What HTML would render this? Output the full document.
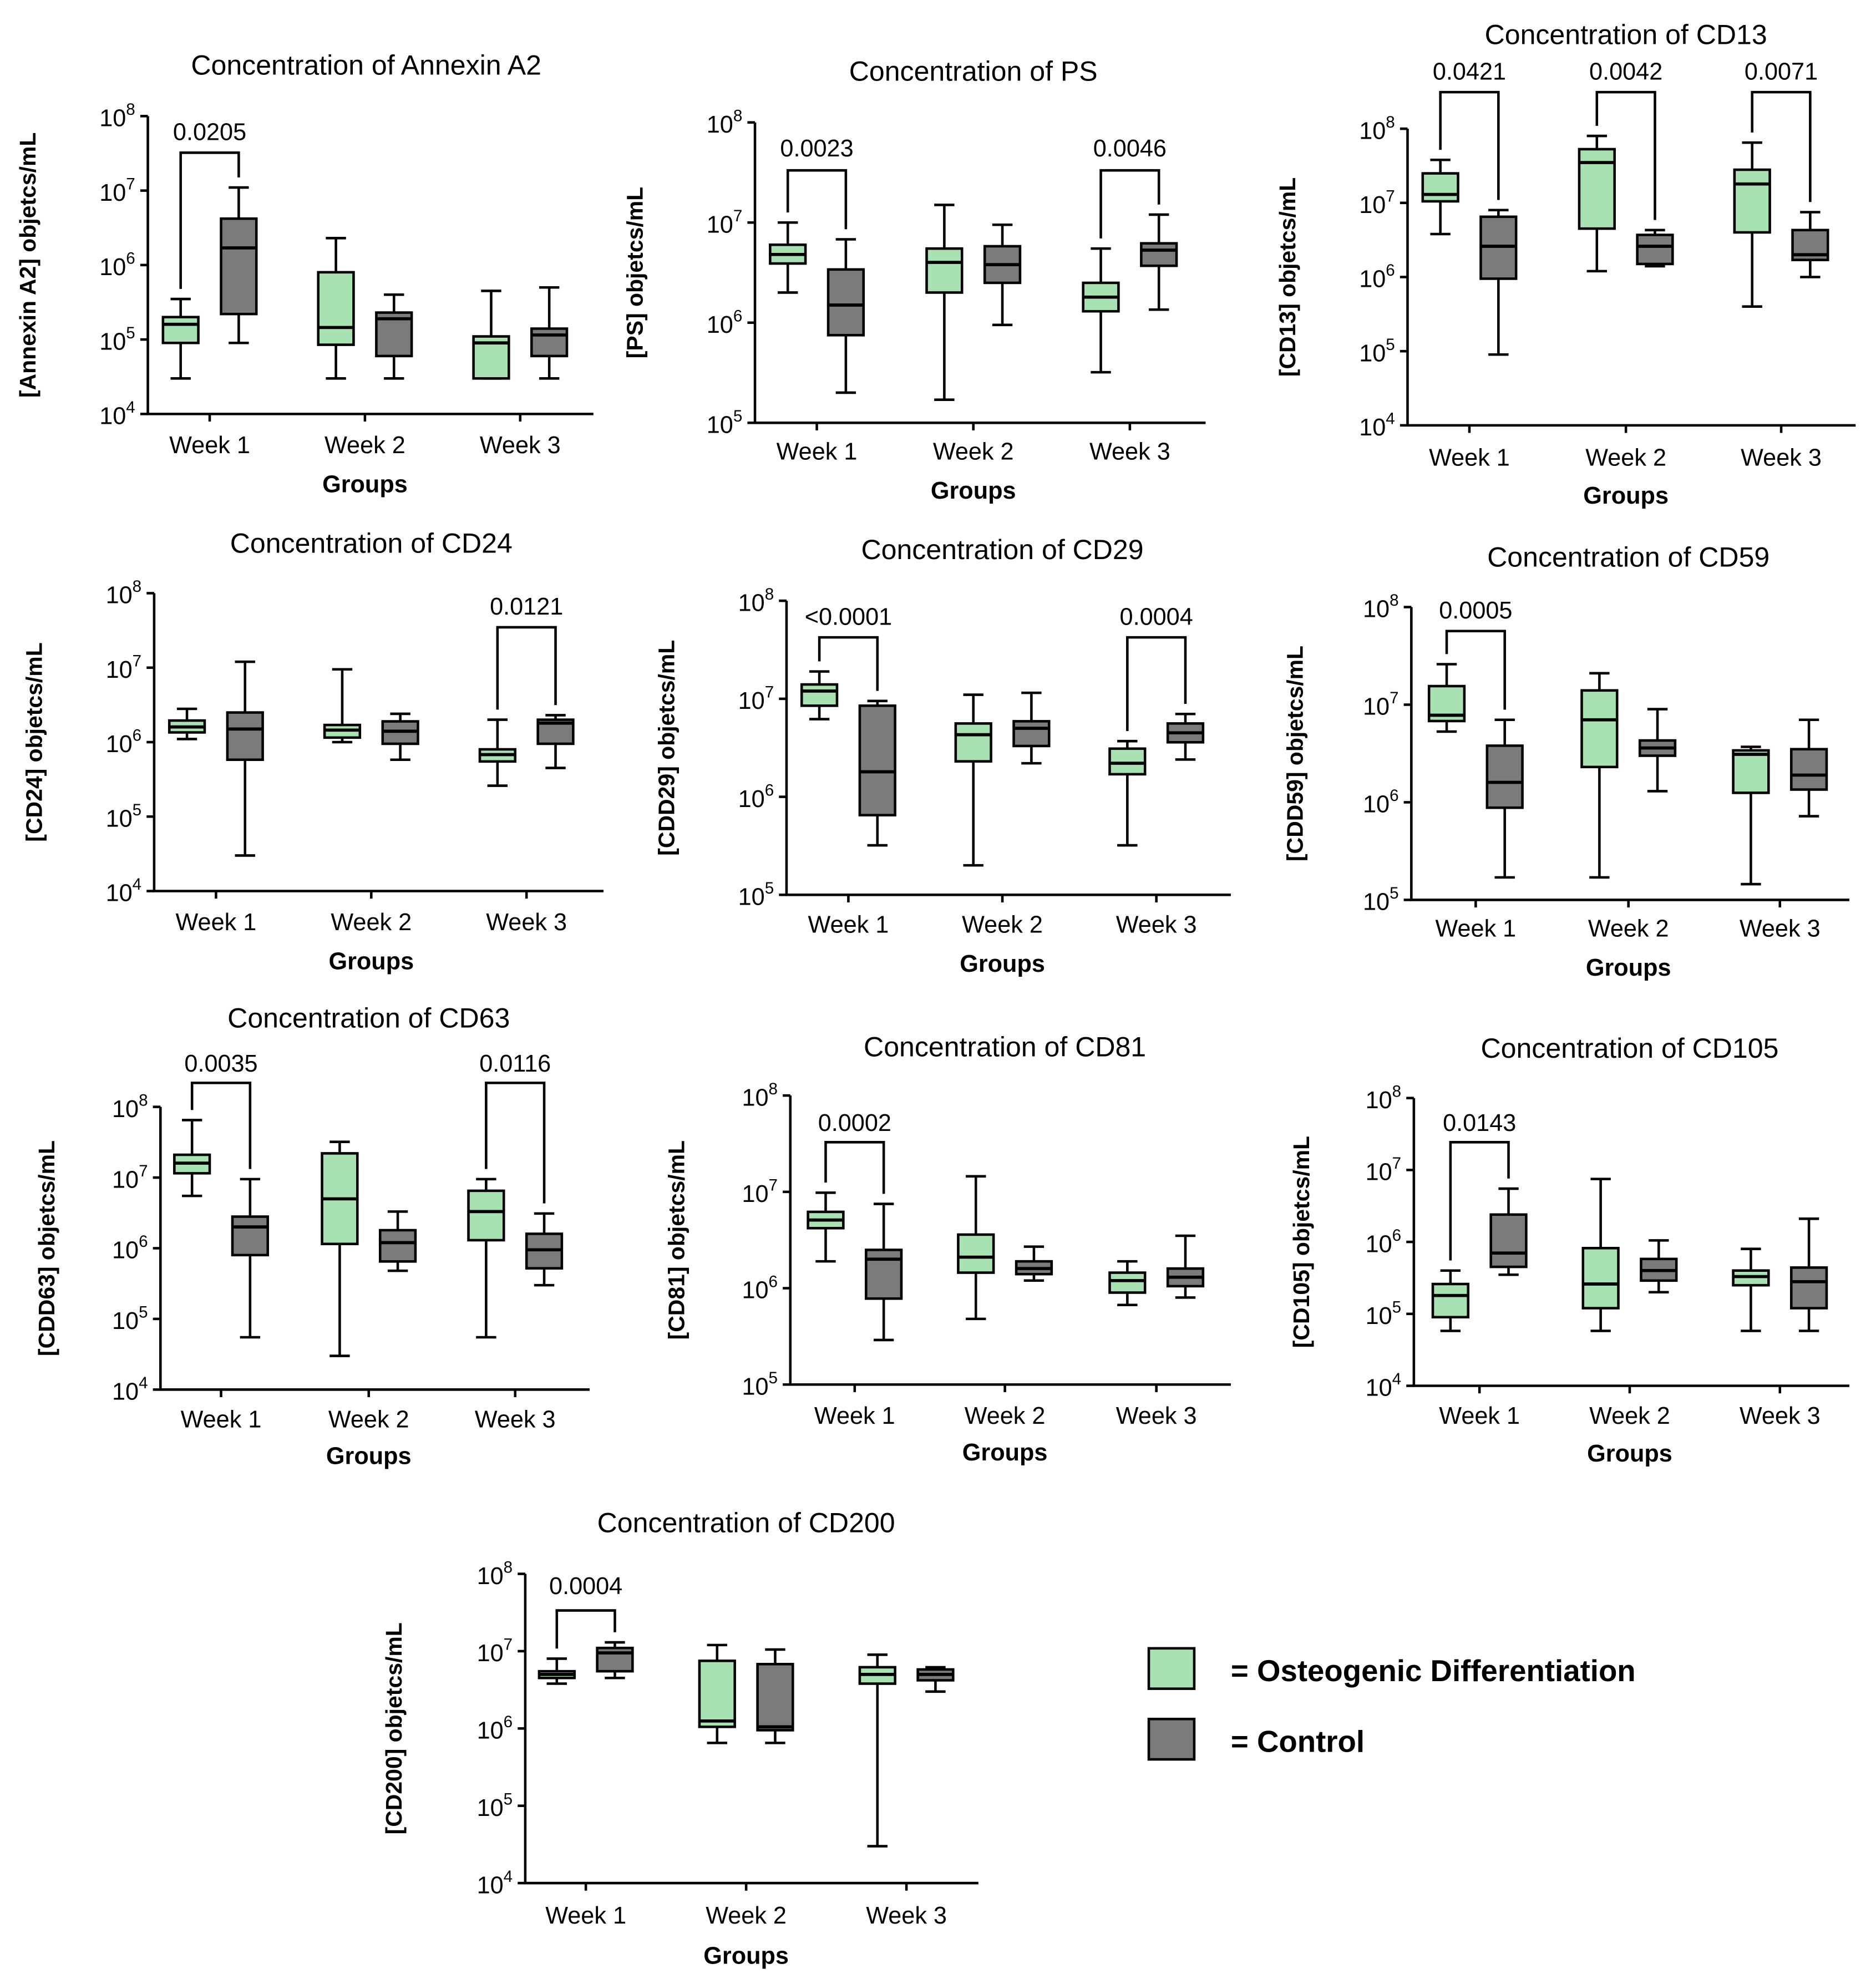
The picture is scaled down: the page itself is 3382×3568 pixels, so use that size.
<!DOCTYPE html>
<html><head><meta charset="utf-8"><style>
html,body{margin:0;padding:0;background:#fff}
svg{display:block;font-family:"Liberation Sans",Arial,sans-serif}
</style></head><body>
<svg id="fig" width="3382" height="3568" viewBox="0 0 1486 1568" xmlns="http://www.w3.org/2000/svg">
<g id="legend">
<rect x="910" y="1306" width="36" height="32" fill="#a9e2b2" stroke="#000" stroke-width="2"/>
<text x="975" y="1332" font-size="24" font-weight="bold">= Osteogenic Differentiation</text>
<rect x="910" y="1362" width="36" height="32" fill="#7b7b7b" stroke="#000" stroke-width="2"/>
<text x="975" y="1388" font-size="24" font-weight="bold">= Control</text>
</g>
</svg>
<script>
// Data: [min, q1, median, q3, max] per week
const weeks = ["Week 1","Week 2","Week 3"];
const annexinGreen = [[3e4,9e4,1.6e5,2e5,3.5e5],[3e4,8.5e4,1.45e5,8e5,2.3e6],[3e4,3e4,9e4,1.1e5,4.5e5]];
const annexinGray  = [[9e4,2.2e5,1.7e6,4.2e6,1.1e7],[3e4,6e4,1.9e5,2.3e5,4e5],[3e4,6e4,1.15e5,1.4e5,5e5]];
const psGreen = [[2e6,3.9e6,4.8e6,6e6,1e7],[1.7e5,2e6,4e6,5.5e6,1.5e7],[3.2e5,1.3e6,1.8e6,2.5e6,5.5e6]];
const psGray  = [[2e5,7.5e5,1.5e6,3.4e6,6.8e6],[9.5e5,2.5e6,3.8e6,5.8e6,9.5e6],[1.35e6,3.7e6,5.3e6,6.2e6,1.2e7]];
const cd13Green = [[3.8e6,1.05e7,1.3e7,2.5e7,3.8e7],[1.2e6,4.5e6,3.5e7,5.3e7,8e7],[4e5,4e6,1.8e7,2.8e7,6.5e7]];
const cd13Gray  = [[9e4,9.5e5,2.6e6,6.5e6,8e6],[1.4e6,1.5e6,2.6e6,3.7e6,4.3e6],[1e6,1.7e6,2e6,4.3e6,7.5e6]];
const cd24Green = [[1.1e6,1.35e6,1.6e6,1.95e6,2.8e6],[1e6,1.15e6,1.45e6,1.7e6,9.5e6],[2.6e5,5.5e5,6.8e5,8e5,2e6]];
const cd24Gray  = [[3e4,5.8e5,1.5e6,2.5e6,1.2e7],[5.8e5,9.5e5,1.4e6,1.9e6,2.4e6],[4.5e5,9.5e5,1.8e6,2e6,2.3e6]];
const cd29Green = [[6.2e6,8.5e6,1.2e7,1.4e7,1.9e7],[2e5,2.3e6,4.3e6,5.6e6,1.1e7],[3.2e5,1.7e6,2.2e6,3.1e6,3.7e6]];
const cd29Gray  = [[3.2e5,6.5e5,1.8e6,8.5e6,9.5e6],[2.2e6,3.3e6,5e6,5.9e6,1.15e7],[2.4e6,3.6e6,4.5e6,5.6e6,7e6]];
const cd59Green = [[5.3e6,6.8e6,7.8e6,1.55e7,2.6e7],[1.7e5,2.3e6,7e6,1.4e7,2.1e7],[1.45e5,1.25e6,3.1e6,3.4e6,3.7e6]];
const cd59Gray  = [[1.7e5,8.8e5,1.6e6,3.8e6,7e6],[1.3e6,3e6,3.6e6,4.3e6,9e6],[7.2e5,1.35e6,1.9e6,3.5e6,7e6]];
const cd63Green = [[5.5e6,1.15e7,1.6e7,2.1e7,6.5e7],[3e4,1.15e6,5e6,2.2e7,3.2e7],[5.5e4,1.3e6,3.3e6,6.5e6,9.5e6]];
const cd63Gray  = [[5.5e4,8e5,2e6,2.8e6,9.5e6],[4.8e5,6.5e5,1.2e6,1.8e6,3.3e6],[3e5,5.2e5,9.5e5,1.6e6,3.1e6]];
const cd81Green = [[1.9e6,4.2e6,5.1e6,6.2e6,9.8e6],[4.8e5,1.45e6,2.1e6,3.6e6,1.45e7],[6.7e5,9e5,1.2e6,1.45e6,1.9e6]];
const cd81Gray  = [[2.9e5,7.8e5,2e6,2.5e6,7.5e6],[1.2e6,1.4e6,1.6e6,1.9e6,2.7e6],[8e5,1.05e6,1.3e6,1.6e6,3.5e6]];
const cd105Green = [[5.8e4,9e4,1.8e5,2.6e5,4e5],[5.8e4,1.2e5,2.6e5,8.2e5,7.5e6],[5.8e4,2.5e5,3.3e5,4e5,8e5]];
const cd105Gray  = [[3.5e5,4.5e5,7e5,2.4e6,5.5e6],[2e5,2.9e5,4e5,5.8e5,1.05e6],[5.8e4,1.2e5,2.8e5,4.4e5,2.1e6]];
const cd200Green = [[3.8e6,4.5e6,5e6,5.5e6,8e6],[6.5e5,1.05e6,1.25e6,7.5e6,1.2e7],[3e4,3.8e6,5e6,6.2e6,9e6]];
const cd200Gray  = [[4.5e6,5.5e6,9.5e6,1.1e7,1.3e7],[6.5e5,9.5e5,1.05e6,6.8e6,1.05e7],[3e6,4.2e6,5e6,5.8e6,6.2e6]];
const annexinP = [["0.0205",0]]; const psP=[["0.0023",0],["0.0046",2]];
const cd13P=[["0.0421",0],["0.0042",1],["0.0071",2]]; const cd24P=[["0.0121",2]];
const cd29P=[["<0.0001",0],["0.0004",2]]; const cd59P=[["0.0005",0]];
const cd63P=[["0.0035",0],["0.0116",2]]; const cd81P=[["0.0002",0]];
const cd105P=[["0.0143",0]]; const cd200P=[["0.0004",0]];

const NS="http://www.w3.org/2000/svg";
const svg=document.getElementById('fig');
function mk(tag,attrs,parent){const e=document.createElementNS(NS,tag);for(const k in attrs)e.setAttribute(k,attrs[k]);parent.appendChild(e);return e;}

const panels=[
 {id:"annexin",title:"Concentration of Annexin A2",ttl:[290,52],ylab:"[Annexin  A2] objetcs/mL",ylx:22,ax:117,yTop:92,yBot:328,lo:4,hi:8,xEnd:470,wk:[166,289,412],g:annexinGreen,k:annexinGray,p:annexinP,pl:[104,121],grp:[289,383],wl:352},
 {id:"ps",title:"Concentration of PS",ttl:[771,57],ylab:"[PS] objetcs/mL",ylx:503,ax:598,yTop:97,yBot:335,lo:5,hi:8,xEnd:955,wk:[647,771,895],g:psGreen,k:psGray,p:psP,pl:[117,135],grp:[771,388],wl:357},
 {id:"cd13",title:"Concentration of CD13",ttl:[1288,28],ylab:"[CD13] objetcs/mL",ylx:1020,ax:1115,yTop:102,yBot:337,lo:4,hi:8,xEnd:1470,wk:[1164,1288,1411],g:cd13Green,k:cd13Gray,p:cd13P,pl:[56,73],grp:[1288,392],wl:362},
 {id:"cd24",title:"Concentration of CD24",ttl:[294,431],ylab:"[CD24] objetcs/mL",ylx:27,ax:122,yTop:470,yBot:706,lo:4,hi:8,xEnd:478,wk:[171,294,417],g:cd24Green,k:cd24Gray,p:cd24P,pl:[480,497],grp:[294,761],wl:730},
 {id:"cd29",title:"Concentration of CD29",ttl:[794,436],ylab:"[CDD29] objetcs/mL",ylx:528,ax:623,yTop:476,yBot:709,lo:5,hi:8,xEnd:975,wk:[672,794,916],g:cd29Green,k:cd29Gray,p:cd29P,pl:[488,505],grp:[794,763],wl:732},
 {id:"cd59",title:"Concentration of CD59",ttl:[1290,442],ylab:"[CDD59] objetcs/mL",ylx:1026,ax:1118,yTop:481,yBot:713,lo:5,hi:8,xEnd:1465,wk:[1169,1290,1410],g:cd59Green,k:cd59Gray,p:cd59P,pl:[483,500],grp:[1290,766],wl:735},
 {id:"cd63",title:"Concentration of CD63",ttl:[292,807],ylab:"[CDD63] objetcs/mL",ylx:37,ax:127,yTop:877,yBot:1101,lo:4,hi:8,xEnd:467,wk:[175,292,408],g:cd63Green,k:cd63Gray,p:cd63P,pl:[842,858],grp:[292,1153],wl:1124},
 {id:"cd81",title:"Concentration of CD81",ttl:[796,830],ylab:"[CD81] objetcs/mL",ylx:536,ax:626,yTop:868,yBot:1097,lo:5,hi:8,xEnd:975,wk:[677,796,916],g:cd81Green,k:cd81Gray,p:cd81P,pl:[889,905],grp:[796,1150],wl:1121},
 {id:"cd105",title:"Concentration of CD105",ttl:[1291,831],ylab:"[CD105] objetcs/mL",ylx:1031,ax:1120,yTop:870,yBot:1098,lo:4,hi:8,xEnd:1465,wk:[1172,1291,1410],g:cd105Green,k:cd105Gray,p:cd105P,pl:[889,905],grp:[1291,1151],wl:1121},
 {id:"cd200",title:"Concentration of CD200",ttl:[591,1207],ylab:"[CD200] objetcs/mL",ylx:312,ax:416,yTop:1247,yBot:1492,lo:4,hi:8,xEnd:775,wk:[464,591,718],g:cd200Green,k:cd200Gray,p:cd200P,pl:[1256,1276],grp:[591,1549],wl:1517}
];

panels.forEach(P=>{
 const g=mk('g',{},svg);
 
 
 const y=v=>P.yBot-(Math.log10(v)-P.lo)/(P.hi-P.lo)*(P.yBot-P.yTop);
 const t=mk('text',{x:P.ttl[0],y:P.ttl[1]+7,'font-size':22,'text-anchor':'middle'},g);t.textContent=P.title;
 
 
 const yc=(P.yTop+P.yBot)/2;
 const yl=mk('text',{x:P.ylx,y:yc,'font-size':18,'font-weight':'bold','text-anchor':'middle',transform:`rotate(-90 ${P.ylx} ${yc})`,dy:6},g);yl.textContent=P.ylab;
 
 
 const axis=mk('path',{d:`M${P.ax} ${P.yTop}V${P.yBot}H${P.xEnd}`,stroke:'#000','stroke-width':2,fill:'none'},g);
 
 
 for(let e=P.lo;e<=P.hi;e++){
  const yy=y(Math.pow(10,e));
  mk('line',{x1:P.ax-6,x2:P.ax,y1:yy,y2:yy,stroke:'#000','stroke-width':2},g);
  const tl=mk('text',{x:P.ax-10,y:yy+8,'font-size':19,'text-anchor':'end'},g);
  
  
  const a=mk('tspan',{},tl);a.textContent='10';
  const b=mk('tspan',{'font-size':13,dy:-9},tl);b.textContent=String(e);
 }
 P.wk.forEach((cx,i)=>{
  mk('line',{x1:cx,x2:cx,y1:P.yBot,y2:P.yBot+6,stroke:'#000','stroke-width':2},g);
  const wl=mk('text',{x:cx,y:P.wl+7,'font-size':19,'text-anchor':'middle'},g);wl.textContent=weeks[i];
  
  
  [[P.g[i],cx-23,'#a9e2b2','box-osteogenic'],[P.k[i],cx+23,'#7b7b7b','box-control']].forEach(([d,bx,col,nm])=>{
   const bg=mk('g',{},g);
   
   
   mk('line',{x1:bx,x2:bx,y1:y(d[4]),y2:y(d[0]),stroke:'#000','stroke-width':2},bg);
   mk('line',{x1:bx-8,x2:bx+8,y1:y(d[4]),y2:y(d[4]),stroke:'#000','stroke-width':2},bg);
   mk('line',{x1:bx-8,x2:bx+8,y1:y(d[0]),y2:y(d[0]),stroke:'#000','stroke-width':2},bg);
   mk('rect',{x:bx-14,y:y(d[3]),width:28,height:Math.max(1,y(d[1])-y(d[3])),fill:col,stroke:'#000','stroke-width':2},bg);
   mk('line',{x1:bx-14,x2:bx+14,y1:y(d[2]),y2:y(d[2]),stroke:'#000','stroke-width':2.5},bg);
  });
 });
 const gr=mk('text',{x:P.grp[0],y:P.grp[1]+7,'font-size':19,'font-weight':'bold','text-anchor':'middle'},g);gr.textContent='Groups';
 
 
 P.p.forEach(([lab,wi])=>{
  const cx=P.wk[wi];const x1=cx-23,x2=cx+23;
  const br=mk('path',{d:`M${x1} ${y(P.g[wi][4])-8}V${P.pl[1]}H${x2}V${y(P.k[wi][4])-8}`,stroke:'#000','stroke-width':2,fill:'none'},g);
  
  
  const pt=mk('text',{x:cx,y:P.pl[0]+7,'font-size':19,'text-anchor':'middle'},g);pt.textContent=lab;
  
  
 });
});
</script>
</body></html>
